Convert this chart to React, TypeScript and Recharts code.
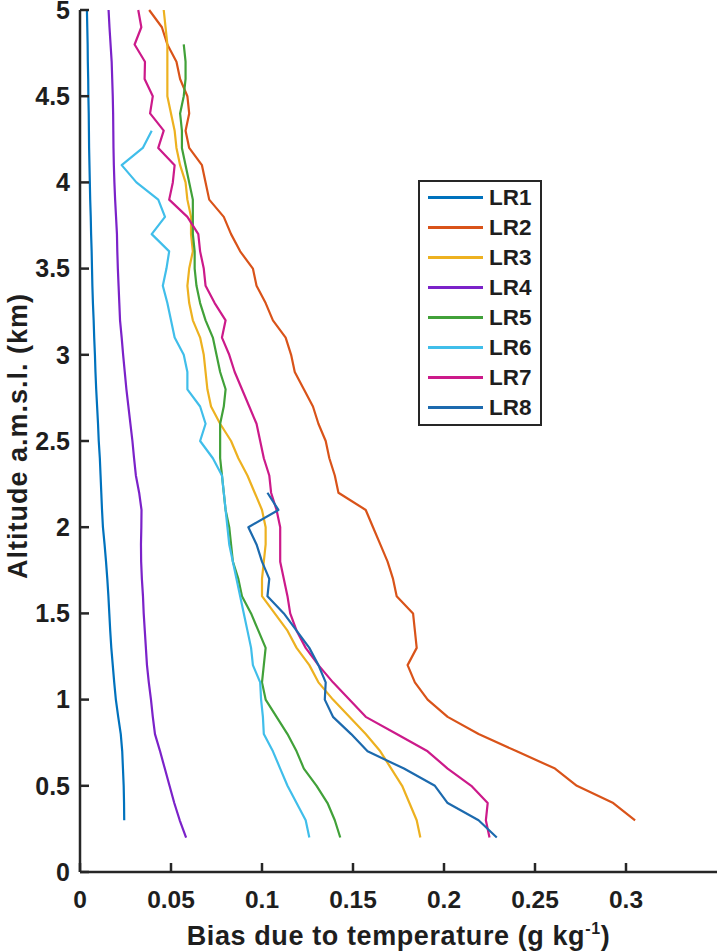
import React from "react";
import { LineChart, Line, XAxis, YAxis, Legend } from "recharts";

// altitude levels (km a.m.s.l.), 0.2 .. 5.0
const ALT = [
  0.2, 0.3, 0.4, 0.5, 0.6, 0.7, 0.8, 0.9, 1.0, 1.1, 1.2, 1.3, 1.4, 1.5, 1.6, 1.7,
  1.8, 1.9, 2.0, 2.1, 2.2, 2.3, 2.4, 2.5, 2.6, 2.7, 2.8, 2.9, 3.0, 3.1, 3.2, 3.3,
  3.4, 3.5, 3.6, 3.7, 3.8, 3.9, 4.0, 4.1, 4.2, 4.3, 4.4, 4.5, 4.6, 4.7, 4.8, 4.9, 5.0,
];

const LR1 = [
  null, 0.0243, 0.0242, 0.024, 0.0236, 0.0232, 0.0224, 0.021, 0.0197, 0.0188, 0.018, 0.0172,
  0.0166, 0.0161, 0.0156, 0.015, 0.0143, 0.0135, 0.0126, 0.0121, 0.0117, 0.0113, 0.0109,
  0.0103, 0.0099, 0.0094, 0.0089, 0.0085, 0.0082, 0.0078, 0.0075, 0.0071, 0.0068, 0.0066,
  0.0064, 0.0061, 0.0059, 0.0056, 0.0054, 0.0052, 0.005, 0.0049, 0.0048, 0.0046, 0.0045,
  0.0043, 0.0042, 0.004, 0.0038,
];
const LR2 = [
  null, 0.305, 0.293, 0.273, 0.261, 0.24, 0.219, 0.202, 0.191, 0.184, 0.18, 0.185, 0.184,
  0.183, 0.174, 0.172, 0.169, 0.165, 0.161, 0.157, 0.142, 0.14, 0.137, 0.135, 0.131, 0.128,
  0.123, 0.118, 0.116, 0.113, 0.106, 0.102, 0.097, 0.095, 0.088, 0.083, 0.079, 0.071, 0.069,
  0.067, 0.06, 0.058, 0.06, 0.059, 0.055, 0.053, 0.048, 0.045, 0.038,
];
const LR3 = [
  0.187, 0.185, 0.181, 0.177, 0.171, 0.165, 0.157, 0.148, 0.139, 0.131, 0.126, 0.119, 0.114,
  0.107, 0.1, 0.1, 0.101, 0.102, 0.102, 0.1, 0.096, 0.092, 0.087, 0.083, 0.077, 0.072, 0.07,
  0.069, 0.068, 0.066, 0.062, 0.06, 0.059, 0.06, 0.062, 0.061, 0.061, 0.059, 0.058, 0.055,
  0.053, 0.052, 0.05, 0.048, 0.048, 0.048, 0.048, 0.047, 0.046,
];
const LR4 = [
  0.0583, 0.0548, 0.0518, 0.0492, 0.0466, 0.044, 0.0412, 0.04, 0.039, 0.0378, 0.0368, 0.0362,
  0.0356, 0.035, 0.0346, 0.034, 0.0336, 0.0335, 0.0337, 0.0338, 0.0325, 0.0307, 0.0297,
  0.0288, 0.0277, 0.0266, 0.0255, 0.0246, 0.0237, 0.0229, 0.022, 0.0216, 0.0212, 0.0208,
  0.0205, 0.0203, 0.0198, 0.0193, 0.0189, 0.0186, 0.0184, 0.0183, 0.0182, 0.018, 0.0177,
  0.0174, 0.0168, 0.0162, 0.0157,
];
const LR5 = [
  0.143, 0.14, 0.136, 0.13, 0.123, 0.119, 0.114, 0.108, 0.102, 0.1, 0.101, 0.102, 0.098,
  0.094, 0.089, 0.087, 0.084, 0.083, 0.082, 0.08, 0.079, 0.078, 0.077, 0.077, 0.077, 0.079,
  0.08, 0.077, 0.075, 0.073, 0.069, 0.066, 0.064, 0.063, 0.063, 0.062, 0.062, 0.062, 0.06,
  0.058, 0.056, 0.056, 0.055, 0.057, 0.058, 0.058, 0.057, null, null,
];
const LR6 = [
  0.126, 0.124, 0.119, 0.114, 0.11, 0.106, 0.101, 0.1005, 0.0995, 0.099, 0.095, 0.094, 0.092,
  0.09, 0.088, 0.086, 0.084, 0.082, 0.081, 0.08, 0.079, 0.078, 0.073, 0.066, 0.069, 0.066,
  0.059, 0.059, 0.057, 0.052, 0.05, 0.048, 0.0455, 0.0475, 0.049, 0.0394, 0.0467, 0.043,
  0.031, 0.0229, 0.0345, 0.0394, null, null, null, null, null, null, null,
];
const LR7 = [
  0.225, 0.223, 0.224, 0.215, 0.202, 0.191, 0.174, 0.157, 0.148, 0.139, 0.131, 0.124, 0.119,
  0.1155, 0.114, 0.112, 0.11, 0.11, 0.11, 0.108, 0.105, 0.104, 0.101, 0.099, 0.097, 0.093,
  0.089, 0.085, 0.082, 0.078, 0.08, 0.074, 0.069, 0.068, 0.066, 0.065, 0.059, 0.049, 0.051,
  0.052, 0.043, 0.046, 0.0385, 0.04, 0.0355, 0.0357, 0.03, 0.0337, 0.032,
];
const LR8 = [
  0.229, 0.219, 0.202, 0.195, 0.178, 0.158, 0.149, 0.139, 0.1345, 0.135, 0.131, 0.126, 0.119,
  0.112, 0.103, 0.104, 0.1, 0.097, 0.0925, 0.109, 0.103,
];

const SERIES = ["LR1", "LR2", "LR3", "LR4", "LR5", "LR6", "LR7", "LR8"];
const VALUES = [LR1, LR2, LR3, LR4, LR5, LR6, LR7, LR8];
const COLORS = ["#0072BD", "#D95319", "#EDB120", "#7B22C9", "#41A139", "#40BEEA", "#CC1A8A", "#1C6AAE"];

const X_TICKS = [0, 0.05, 0.1, 0.15, 0.2, 0.25, 0.3];
const Y_TICKS = [0, 0.5, 1, 1.5, 2, 2.5, 3, 3.5, 4, 4.5, 5];

const rows = ALT.map((alt, i) => {
  const row: any = { alt };
  SERIES.forEach((name, s) => {
    const v = VALUES[s][i];
    row[name] = v === undefined ? null : v;
  });
  return row;
});

const FONT = "'Liberation Sans', Arial, Helvetica, sans-serif";
const INK = "#262626";

const XTick = ({ x, y, payload }: any) => (
  <g>
    <line x1={x} y1={y} x2={x} y2={y - 9} stroke={INK} strokeWidth={2.5} />
    <text x={x} y={y + 36} textAnchor="middle" fontFamily={FONT} fontWeight="bold" fontSize={24.5} fill="#1e1e1e">
      {String(payload.value)}
    </text>
  </g>
);

const YTick = ({ x, y, payload }: any) => (
  <g>
    <line x1={x} y1={y} x2={x + 9} y2={y} stroke={INK} strokeWidth={2.5} />
    <text x={x - 10} y={y + 8.8} textAnchor="end" fontFamily={FONT} fontWeight="bold" fontSize={25} fill="#1e1e1e">
      {String(payload.value)}
    </text>
  </g>
);

const XTitle = ({ viewBox }: any) => (
  <text
    x={viewBox.x + viewBox.width / 2}
    y={viewBox.y + 73}
    textAnchor="middle"
    fontFamily={FONT}
    fontWeight="bold"
    fontSize={27}
    letterSpacing={0.6}
    fill="#1e1e1e"
  >
    Bias due to temperature (g kg
    <tspan dy={-11} fontSize={16}>-1</tspan>
    <tspan dy={11}>)</tspan>
  </text>
);

const YTitle = ({ viewBox }: any) => {
  const cx = 27;
  const cy = viewBox.y + viewBox.height / 2 - 5;
  return (
    <text
      x={cx}
      y={cy}
      transform={`rotate(-90 ${cx} ${cy})`}
      textAnchor="middle"
      fontFamily={FONT}
      fontWeight="bold"
      fontSize={27}
      letterSpacing={1}
      fill="#1e1e1e"
    >
      Altitude a.m.s.l. (km)
    </text>
  );
};

const LegendBox = () => (
  <div
    style={{
      width: 124,
      height: 246,
      boxSizing: "border-box",
      border: `2.5px solid ${INK}`,
      background: "#fff",
      position: "relative",
    }}
  >
    {SERIES.map((name, i) => (
      <div
        key={name}
        style={{ position: "absolute", left: 0, top: 15.5 + i * 30 - 15, height: 30, display: "flex", alignItems: "center" }}
      >
        <div style={{ width: 55, height: 2.6, background: COLORS[i], marginLeft: 8 }} />
        <span
          style={{ marginLeft: 6, fontFamily: FONT, fontWeight: "bold", fontSize: 22.5, color: "#1e1e1e", lineHeight: "30px" }}
        >
          {name}
        </span>
      </div>
    ))}
  </div>
);

export default function App() {
  return (
    <div style={{ position: "absolute", left: 0, top: 0, width: 720, height: 952, background: "#fff" }}>
      <LineChart
        width={720}
        height={952}
        data={rows}
        layout="vertical"
        margin={{ top: 10, right: 3, bottom: 0, left: 0 }}
      >
        <XAxis
          type="number"
          domain={[0, 0.35]}
          ticks={X_TICKS}
          height={80}
          axisLine={{ stroke: INK, strokeWidth: 2.5 }}
          tickLine={false}
          tickSize={0}
          tickMargin={0}
          tick={<XTick />}
          interval={0}
          label={<XTitle />}
        />
        <YAxis
          type="number"
          dataKey="alt"
          domain={[0, 5]}
          ticks={Y_TICKS}
          reversed
          width={80}
          axisLine={{ stroke: INK, strokeWidth: 2.5 }}
          tickLine={false}
          tickSize={0}
          tickMargin={0}
          tick={<YTick />}
          interval={0}
          label={<YTitle />}
        />
        {SERIES.map((name, i) => (
          <Line
            key={name}
            dataKey={name}
            stroke={COLORS[i]}
            strokeWidth={2.2}
            strokeLinejoin="round"
            dot={false}
            activeDot={false}
            isAnimationActive={false}
            connectNulls={false}
          />
        ))}
        <Legend
          layout="vertical"
          align="center"
          verticalAlign="middle"
          wrapperStyle={{ left: 418, top: 180, width: 124, height: 246 }}
          content={<LegendBox />}
        />
      </LineChart>
    </div>
  );
}
